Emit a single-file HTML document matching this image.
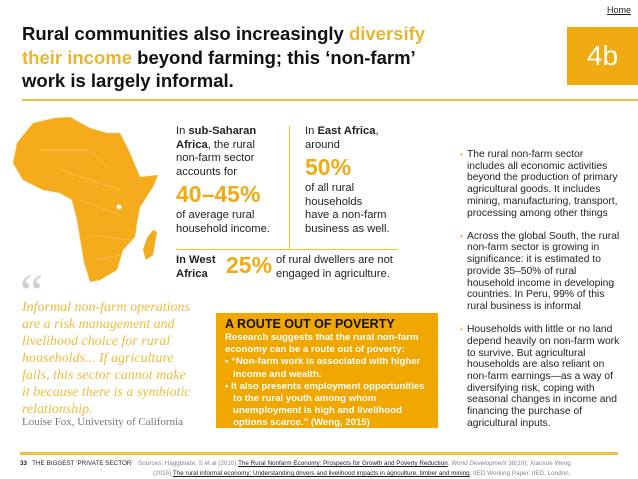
<!DOCTYPE html>
<html><head><meta charset="utf-8"><style>
body{margin:0;width:638px;height:479px;background:#fff;position:relative;overflow:hidden;font-family:"Liberation Sans",sans-serif;color:#222}
.a{position:absolute;white-space:nowrap}
.y{color:#e9b632}
.o{color:#f0aa12}
.rc{font-size:10.3px;line-height:11.7px;color:#222}
.rc li{list-style:none;position:relative;margin:0 0 11.5px 0}
.rc li:before{content:"•";color:#f0aa12;position:absolute;left:-7px;font-size:8px}
.q{font-family:"Liberation Serif",serif;font-style:italic;font-size:14.5px;line-height:17px;color:#ecbd3d}
</style></head><body>
<div class="a" style="left:607px;top:5px;font-size:9px;text-decoration:underline;color:#222">Home</div>
<div class="a" style="left:22px;top:22px;font-size:18.5px;font-weight:bold;line-height:23.5px;color:#111">Rural communities also increasingly <span class="y">diversify<br>their income</span> beyond farming; this ‘non-farm’<br>work is largely informal.</div>
<div class="a" style="left:567px;top:27px;width:71px;height:58px;background:#f0aa12;color:#fff;font-size:28px;line-height:58px;text-align:center">4b</div>
<div class="a" style="left:22px;top:99px;width:616px;height:2px;background:#f0c040"></div>

<svg class="a" style="left:0;top:110px" width="170" height="180" viewBox="0 110 170 180">
<path fill="#f5ac1c" stroke="#f8d27a" stroke-width="0.5" d="M33,123 L55,118 L70,117 L90,128 L107,133 L120,133 L130,153 L140,177 L158,175 L153,187 L140,207 L137,223 L135,237 L123,250 L117,270 L100,280 L90,282 L84,262 L82,250 L77,220 L72,200 L60,193 L43,190 L23,180 L13,163 L17,143 Z"/>
<path fill="#f5ac1c" d="M153,230 L157,232 L153,255 L146,260 L143,250 L147,238 Z"/>
<circle cx="119" cy="207" r="2.5" fill="#fff"/>
<path fill="none" stroke="#f8d27a" stroke-width="0.5" d="M40,150 L90,150 L110,170 M60,170 L120,190 M80,200 L120,215 M90,235 L130,240 M95,260 L120,255"/>
</svg>

<div class="a" style="left:176px;top:125px;font-size:11.2px;line-height:13.5px">In <b>sub-Saharan</b><br><b>Africa</b>, the rural<br>non-farm sector<br>accounts for<div class="o" style="font-size:23px;font-weight:bold;line-height:30px">40–45%</div>of average rural<br>household income.</div>
<div class="a" style="left:289px;top:126px;width:1px;height:124px;background:#f0c040"></div>
<div class="a" style="left:305px;top:125px;font-size:11.2px;line-height:13.5px">In <b>East Africa</b>,<br>around<div class="o" style="font-size:23px;font-weight:bold;line-height:30px">50%</div>of all rural<br>households<br>have a non-farm<br>business as well.</div>
<div class="a" style="left:176px;top:249px;width:222px;height:1px;background:#f0c040"></div>
<div class="a" style="left:176px;top:254px;font-size:11.2px;line-height:13.5px;font-weight:bold">In West<br>Africa</div>
<div class="a o" style="left:226px;top:252px;font-size:23px;font-weight:bold">25%</div>
<div class="a" style="left:276px;top:254px;font-size:11.2px;line-height:13.5px">of rural dwellers are not<br>engaged in agriculture.</div>

<div class="a" style="left:20px;top:272px;font-family:'Liberation Serif',serif;font-size:52px;color:#cfcfcf;line-height:44px">“</div>
<div class="a q" style="left:22px;top:299px;font-size:14px">Informal non-farm operations<br>are a risk management and<br>livelihood choice for rural<br>households... If agriculture<br>fails, this sector cannot make<br>it because there is a symbiotic<br>relationship.</div>
<div class="a" style="left:22px;top:416px;font-family:'Liberation Serif',serif;font-size:11px;color:#777">Louise Fox, University of California</div>

<div class="a" style="left:216px;top:313px;width:222px;height:115px;background:#f0a800">
<div style="position:absolute;left:9px;top:4px;font-size:12.5px;font-weight:bold;color:#111">A ROUTE OUT OF POVERTY</div>
<div style="position:absolute;left:9px;top:19px;font-size:9.6px;font-weight:bold;color:#fff;line-height:12.2px">Research suggests that the rural non-farm<br>economy can be a route out of poverty:<br>• “Non-farm work is associated with higher<br>&nbsp;&nbsp;&nbsp;income and wealth.<br>• It also presents employment opportunities<br>&nbsp;&nbsp;&nbsp;to the rural youth among whom<br>&nbsp;&nbsp;&nbsp;unemployment is high and livelihood<br>&nbsp;&nbsp;&nbsp;options scarce.” (Weng, 2015)</div>
</div>

<ul class="a rc" style="left:467px;top:149px;margin:0;padding:0">
<li>The rural non-farm sector<br>includes all economic activities<br>beyond the production of primary<br>agricultural goods. It includes<br>mining, manufacturing, transport,<br>processing among other things</li>
<li>Across the global South, the rural<br>non-farm sector is growing in<br>significance: it is estimated to<br>provide 35–50% of rural<br>household income in developing<br>countries. In Peru, 99% of this<br>rural business is informal</li>
<li>Households with little or no land<br>depend heavily on non-farm work<br>to survive. But agricultural<br>households are also reliant on<br>non-farm earnings—as a way of<br>diversifying risk, coping with<br>seasonal changes in income and<br>financing the purchase of<br>agricultural inputs.</li>
</ul>

<div class="a" style="left:20px;top:452px;width:598px;height:3px;background:#f0c040"></div>
<div class="a" style="left:20px;top:459px;font-size:6.3px;line-height:10px;color:#888">
<span style="color:#222"><b>33</b>&nbsp;&nbsp; THE BIGGEST ‘PRIVATE SECTOR’</span>&nbsp;&nbsp; Sources: Haggblade, S et al (2010) <u style="color:#222">The Rural Nonfarm Economy: Prospects for Growth and Poverty Reduction</u>. <i>World Development</i> 38(10); Xiaoxue Weng<br><span style="padding-left:133px">(2015) <u style="color:#222">The rural informal economy: Understanding drivers and livelihood impacts in agriculture, timber and mining</u>. IIED Working Paper. IIED, London.</span></div>
</body></html>
